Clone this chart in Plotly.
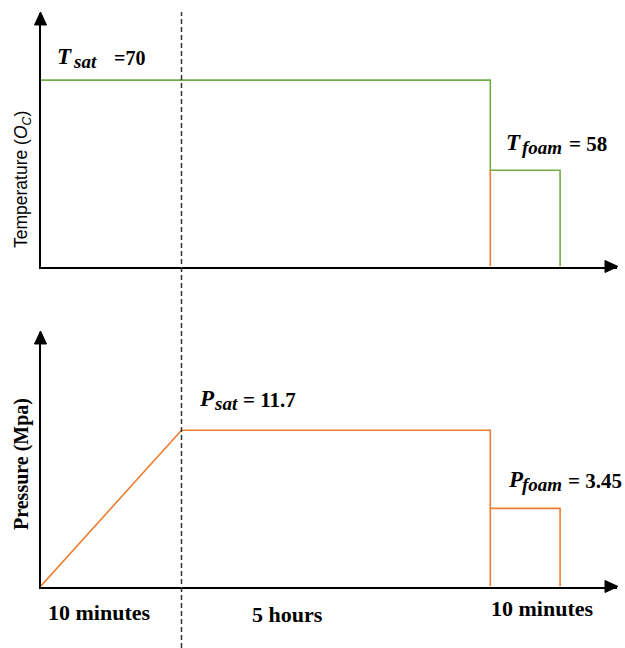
import plotly.graph_objects as go

# ---- data (schematic process diagram) ----
# phase boundaries on a schematic (not-to-scale) time axis
phase_bounds = [0.0, 1.0, 3.19, 3.685]          # start, end of heating ramp, pressure release, end of foaming
phase_labels = ["10 minutes", "5 hours", "10 minutes"]
phase_label_pos = [0.42, 1.75, 3.56]

T_sat = 70      # saturation temperature (°C)
T_foam = 58     # foaming temperature (°C)
P_sat = 11.7    # saturation pressure (MPa)
P_foam = 3.45   # foaming pressure (MPa)

# axis ranges (schematic, not to scale)
T_range = [45.2, 78.93]
P_range = [-4.8, 22.065]

W, H = 625, 648
GREEN = "#70AD47"
ORANGE = "#ED7D31"

t0, t1, t2, t3 = phase_bounds
T_floor = T_range[0]
P_floor = P_range[0]

fig = go.Figure()

# Temperature panel
fig.add_trace(go.Scatter(
    x=[t0, t2, t2, t3, t3], y=[T_sat, T_sat, T_foam, T_foam, T_floor],
    mode="lines", line=dict(color=GREEN, width=1.6), xaxis="x", yaxis="y",
    hoverinfo="skip"))
fig.add_trace(go.Scatter(
    x=[t2, t2], y=[T_foam, T_floor],
    mode="lines", line=dict(color=ORANGE, width=1.6), xaxis="x", yaxis="y",
    hoverinfo="skip"))

# Pressure panel
fig.add_trace(go.Scatter(
    x=[t0, t1, t2, t2, None, t2, t3, t3],
    y=[P_floor, P_sat, P_sat, P_floor, None, P_foam, P_foam, P_floor],
    mode="lines", line=dict(color=ORANGE, width=1.6), xaxis="x2", yaxis="y2",
    hoverinfo="skip"))

def px(x):
    return x / W

def py(y):
    return 1 - y / H

x_dom = [px(40.5), px(617)]
x_range = [0, (617 - 40.5) / 141.0]

ax_common = dict(showgrid=False, zeroline=False, showticklabels=False, ticks="",
                 showline=True, linecolor="black", linewidth=2, fixedrange=True)

fig.update_layout(
    width=W, height=H,
    margin=dict(l=0, r=0, t=0, b=0),
    paper_bgcolor="white", plot_bgcolor="white",
    showlegend=False,
    xaxis=dict(domain=x_dom, range=x_range, anchor="y", **ax_common),
    yaxis=dict(domain=[py(266.5), py(13)], range=T_range, anchor="x", **ax_common),
    xaxis2=dict(domain=x_dom, range=x_range, anchor="y2", **ax_common),
    yaxis2=dict(domain=[py(586.5), py(332)], range=P_range, anchor="x2", **ax_common),
)

# dashed divider
fig.add_shape(type="line", xref="x", yref="paper", x0=t1, x1=t1, y0=0, y1=py(12),
              line=dict(color="#333333", width=1.5, dash="5px,3px"))

# arrowheads (decorative triangles at the axis ends)
def tri(pts):
    return "M " + " L ".join(f"{px(a):.5f},{py(b):.5f}" for a, b in pts) + " Z"

for pts in [
    [(40.5, 12), (34.5, 25), (46.5, 25)],
    [(618, 266.5), (605, 260.5), (605, 272.5)],
    [(40.5, 331), (34.5, 344), (46.5, 344)],
    [(618, 586.5), (605, 580.5), (605, 592.5)],
]:
    fig.add_shape(type="path", xref="paper", yref="paper", path=tri(pts),
                  fillcolor="black", line=dict(color="black", width=1))

serif = "Liberation Serif"
BIG, MAIN, SUBS = 23, 21, 19

def part(x_left, baseline, text, size, italic=True):
    t = f"<b><i>{text}</i></b>" if italic else f"<b>{text}</b>"
    return dict(xref="paper", yref="paper", x=px(x_left), y=py(baseline - 0.35 * size),
                xanchor="left", yanchor="middle", text=t, showarrow=False,
                font=dict(family=serif, size=size, color="black"))

annots = []
# T_sat = 70
annots += [part(55, 65, "T", BIG), part(71, 68, "sat", SUBS),
           part(112, 65, f"={T_sat}", 20, italic=False)]
# T_foam = 58
annots += [part(504, 151, "T", BIG), part(520, 154, "foam", SUBS),
           part(567, 151, f"= {T_foam}", MAIN, italic=False)]
# P_sat = 11.7
annots += [part(197, 407, "P", BIG), part(212, 410, "sat", SUBS),
           part(241, 407, f"= {P_sat}", MAIN, italic=False)]
# P_foam = 3.45
annots += [part(506, 488, "P", BIG), part(520, 491, "foam", SUBS),
           part(566, 488, f"= {P_foam}", MAIN, italic=False)]

# axis titles
annots += [
    dict(xref="paper", yref="paper", x=px(22), y=py(180), xanchor="center", yanchor="middle",
         textangle=-90, text="Temperature (<i>O</i><sub><i>C</i></sub>)",
         showarrow=False, font=dict(family="Liberation Sans", size=17.5, color="black")),
    dict(xref="paper", yref="paper", x=px(21), y=py(464), xanchor="center", yanchor="middle",
         textangle=-90, text="<b>Pressure (Mpa)</b>",
         showarrow=False, font=dict(family=serif, size=20, color="black")),
]

label_y = [612, 614, 608]
for lab, lx, ly in zip(phase_labels, phase_label_pos, label_y):
    annots.append(dict(xref="x2", yref="paper", x=lx, y=py(ly), xanchor="center", yanchor="middle",
                       text=f"<b>{lab}</b>", showarrow=False,
                       font=dict(family=serif, size=22, color="black")))

fig.update_layout(annotations=annots)

fig.write_html("out.html", config={"displayModeBar": False},
               post_script="document.body.style.margin='0';document.body.style.padding='0';")
